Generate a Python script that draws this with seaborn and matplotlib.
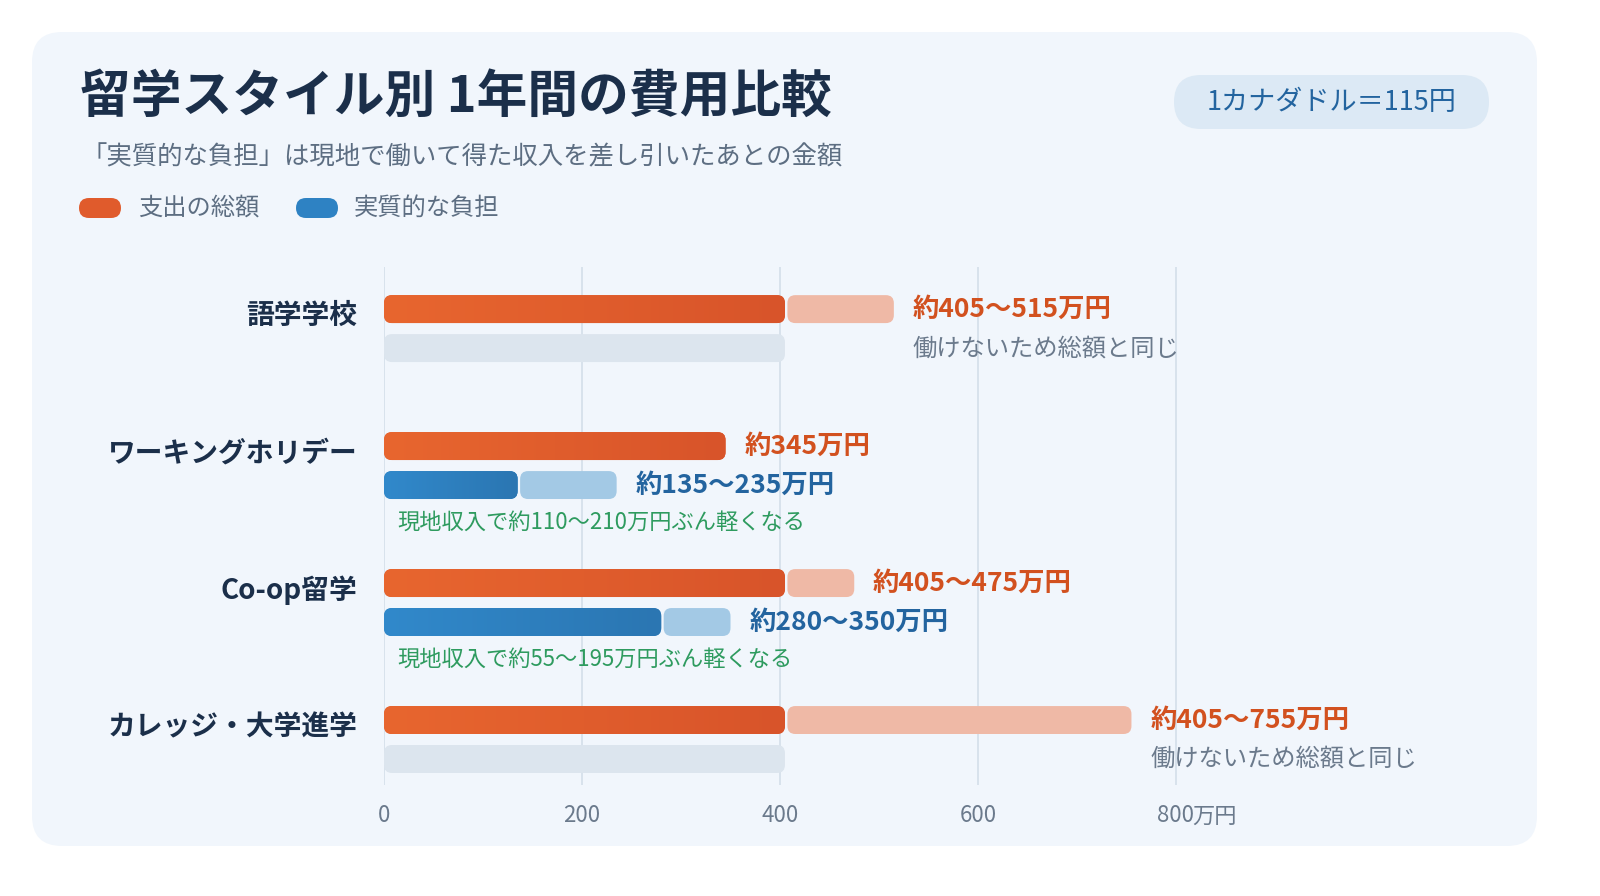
import numpy as np
import pandas as pd
import matplotlib.pyplot as plt
import seaborn as sns
from matplotlib.patches import FancyBboxPatch
from matplotlib.colors import LinearSegmentedColormap
from matplotlib.transforms import blended_transform_factory

# ==========================
# DATA
# ==========================

styles = ["語学学校", "ワーキングホリデー", "Co-op留学", "カレッジ・大学進学"]
total_low = [405, 345, 405, 405]
total_high = [515, 345, 475, 755]
net_low = [405, 135, 280, 405]
net_high = [405, 235, 350, 405]
can_work = [False, True, True, False]

total_labels = ["約405〜515万円", "約345万円", "約405〜475万円", "約405〜755万円"]
net_labels = ["", "約135〜235万円", "約280〜350万円", ""]
notes = [
    "働けないため総額と同じ",
    "現地収入で約110〜210万円ぶん軽くなる",
    "現地収入で約55〜195万円ぶん軽くなる",
    "働けないため総額と同じ",
]
x_ticks = [0, 200, 400, 600, 800]

# ==========================
# COLORS
# ==========================

CARD = "#F1F6FC"
NAVY = "#1B2F4A"
SUB = "#5D6E82"
ORANGE = "#E05B2C"
ORANGE_L = "#EFB9A6"
ORANGE_TXT = "#D2511F"
BLUE = "#2E82C3"
BLUE_L = "#A3C9E5"
BLUE_TXT = "#23649F"
GREY_BAR = "#DCE5EE"
GREY_TXT = "#6B7A8C"
GREEN = "#2E9B5F"
GRID = "#D3DEE9"

sns.set_theme(style="white")
plt.rcParams["font.family"] = ["Noto Sans CJK JP", "DejaVu Sans"]

fig = plt.figure(figsize=(16, 8.96), dpi=100)
fig.patch.set_facecolor("white")

# card background (inches)
card = FancyBboxPatch((0.32, 0.50), 15.05, 8.14,
                      boxstyle="round,pad=0,rounding_size=0.3",
                      transform=fig.dpi_scale_trans, fc=CARD, ec="none", zorder=-5)
fig.patches.append(card)

# ==========================
# BARS
# ==========================

ax = fig.add_axes([0.24, 0.1239, 0.61875, 0.578])
ax.set_facecolor("none")
ax.set_zorder(1)

df = pd.DataFrame({
    "style": styles * 2,
    "kind": ["total"] * 4 + ["net"] * 4,
    "value": total_low + net_low,
})

sns.barplot(data=df, y="style", x="value", hue="kind", hue_order=["total", "net"],
            order=styles, orient="h", width=0.569, gap=0.283,
            palette={"total": ORANGE, "net": BLUE}, saturation=1,
            legend=False, ax=ax)

R = 8.0
ASP = (8 / 137) / R
GAP = 2.5

orange_cmap = LinearSegmentedColormap.from_list("o", ["#E8662F", "#D8542A"])
blue_cmap = LinearSegmentedColormap.from_list("b", ["#3189CB", "#2B76B2"])


def rbar(x0, x1, yc, h, color, z=2):
    patch = FancyBboxPatch((x0, yc - h / 2), x1 - x0, h,
                           boxstyle=f"round,pad=0,rounding_size={R}",
                           mutation_aspect=ASP, fc=color, ec="none", zorder=z)
    ax.add_patch(patch)
    return patch


for p in list(ax.patches):
    x0, w = p.get_x(), p.get_width()
    h = p.get_height()
    yc = p.get_y() + h / 2
    row = int(round(yc))
    kind = "total" if yc < row else "net"
    p.remove()

    if kind == "total":
        if total_high[row] > total_low[row]:
            rbar(total_low[row] + GAP, total_high[row], yc, h, ORANGE_L)
        patch = rbar(x0, x0 + w, yc, h, ORANGE, 3)
        cmap = orange_cmap
        ax.text(total_high[row] + 19, yc, total_labels[row], color=ORANGE_TXT,
                fontsize=19, fontweight="bold", va="center", ha="left")
    else:
        if not can_work[row]:
            rbar(x0, x0 + w, yc, h, GREY_BAR, 3)
            ax.text(total_high[row] + 19, yc, notes[row], color=GREY_TXT,
                    fontsize=17.5, va="center", ha="left")
            continue
        if net_high[row] > net_low[row]:
            rbar(net_low[row] + GAP, net_high[row], yc, h, BLUE_L)
        patch = rbar(x0, x0 + w, yc, h, BLUE, 3)
        cmap = blue_cmap
        ax.text(net_high[row] + 19, yc, net_labels[row], color=BLUE_TXT,
                fontsize=19, fontweight="bold", va="center", ha="left")
        ax.text(13, yc + 0.27, notes[row], color=GREEN,
                fontsize=16, va="center", ha="left")

    grad = np.linspace(0, 1, 256).reshape(1, -1)
    im = ax.imshow(grad, cmap=cmap, extent=(x0, x0 + w, yc + h / 2, yc - h / 2),
                   aspect="auto", zorder=4, interpolation="bilinear")
    im.set_clip_path(patch)

# category labels
for i, name in enumerate(styles):
    ax.text(-27, i - 0.09, name, ha="right", va="center", fontsize=20,
            fontweight="bold", color=NAVY)

ax.set_xlim(0, 1000)
ax.set_ylim(3.332, -0.449)
ax.set_xticks(x_ticks)
ax.set_xticklabels([str(t) for t in x_ticks])
ax.set_yticks([])
ax.tick_params(axis="x", length=0, pad=14, labelsize=16, labelcolor=GREY_TXT)
ax.xaxis.grid(True, color=GRID, lw=1.2)
ax.set_axisbelow(True)
ax.set_xlabel("")
ax.set_ylabel("")
sns.despine(ax=ax, left=True, bottom=True)

trans = blended_transform_factory(ax.transData, ax.transAxes)
ax.text(816, -0.0598, "万円", transform=trans, ha="left", va="center",
        fontsize=16, color=GREY_TXT)

# ==========================
# TITLE / LEGEND / PILL
# ==========================

fig.text(80 / 1600, 1 - 97 / 896, "留学スタイル別 1年間の費用比較", fontsize=36.5,
         fontweight="bold", color=NAVY, ha="left", va="center")
fig.text(82 / 1600, 1 - 157 / 896,
         "「実質的な負担」は現地で働いて得た収入を差し引いたあとの金額",
         fontsize=18.3, color=SUB, ha="left", va="center")

for sx, tx, col, label in [(0.79, 138, ORANGE, "支出の総額"),
                           (2.96, 354, BLUE, "実質的な負担")]:
    sw = FancyBboxPatch((sx, 6.78), 0.42, 0.20,
                        boxstyle="round,pad=0,rounding_size=0.1",
                        transform=fig.dpi_scale_trans, fc=col, ec="none")
    fig.patches.append(sw)
    fig.text(tx / 1600, 1 - 208 / 896, label, fontsize=17.5, color=SUB,
             ha="left", va="center")

pill = FancyBboxPatch((11.74, 7.67), 3.15, 0.54,
                      boxstyle="round,pad=0,rounding_size=0.27",
                      transform=fig.dpi_scale_trans, fc="#DCE9F5", ec="none")
fig.patches.append(pill)
fig.text(1331.5 / 1600, 1 - 102 / 896, "1カナダドル＝115円", fontsize=19.5,
         color=BLUE_TXT, ha="center", va="center")

fig.savefig("out.png", dpi=100, facecolor="white")
